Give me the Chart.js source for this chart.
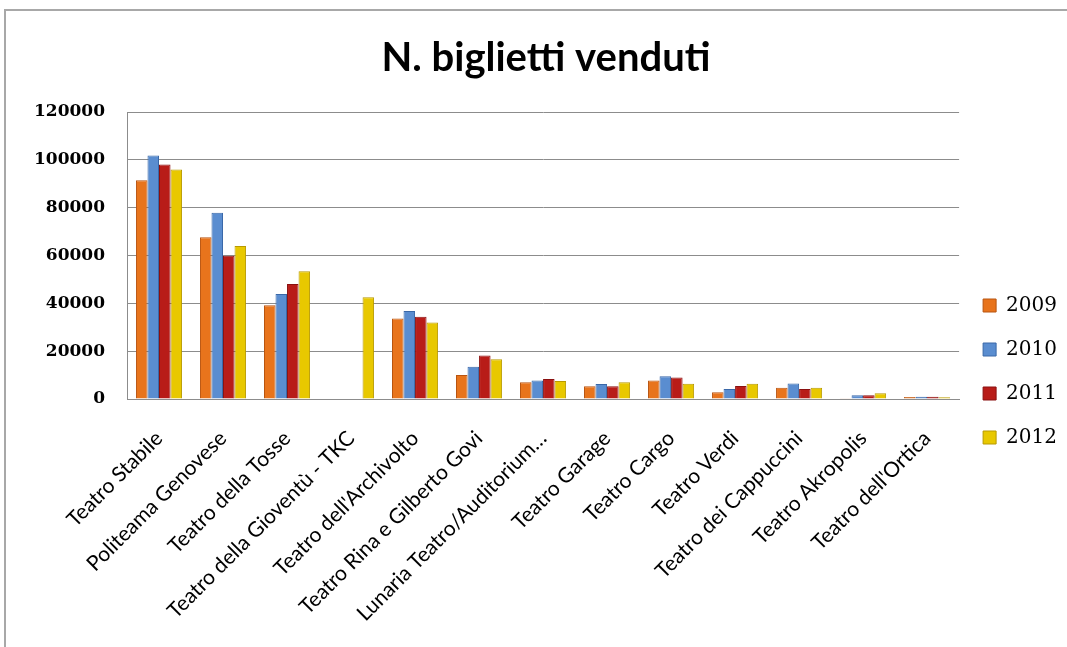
<!DOCTYPE html>
<html>
<head>
<meta charset="utf-8">
<script src="https://cdn.jsdelivr.net/npm/chart.js@4"></script>
<style>
  body { margin: 0; background: #fff; }
  .frame { position: absolute; left: 4px; top: 9px; width: 1100px; height: 700px;
           border-left: 2px solid #a8a8a8; border-top: 2px solid #a8a8a8; }
  #chart { position: absolute; left: 5px; top: 10px; }
</style>
</head>
<body>
<div class="frame"></div>
<canvas id="chart" width="1062" height="637"></canvas>
<script>
const teatri = ['Teatro Stabile', 'Politeama Genovese', 'Teatro della Tosse', 'Teatro della Gioventù - TKC',
  "Teatro dell'Archivolto", 'Teatro Rina e Gilberto Govi', 'Lunaria Teatro/Auditorium…', 'Teatro Garage',
  'Teatro Cargo', 'Teatro Verdi', 'Teatro dei Cappuccini', 'Teatro Akropolis', "Teatro dell'Ortica"];

const anni = ['2009', '2010', '2011', '2012'];
const v2009 = [91500, 67600, 39200, null, 33700, 10000, 7000, 5300, 7700, 2800, 4700, 300, 800];
const v2010 = [101800, 77900, 43900, null, 36800, 13500, 7700, 6300, 9500, 4200, 6500, 1600, 900];
const v2011 = [98000, 59900, 48100, null, 34400, 18200, 8400, 5300, 9000, 5400, 4200, 1600, 900];
const v2012 = [96000, 64000, 53400, 42500, 32000, 16600, 7500, 7000, 6400, 6400, 4700, 2400, 700];

const yMax = 120000, yStep = 20000;

const colori = ['#E8741C', '#5A8DD0', '#B81C18', '#E8C800'];
const bordi = ['#B85410', '#3A68A8', '#8A1010', '#B89A00'];

const serie = [v2009, v2010, v2011, v2012];

new Chart(document.getElementById('chart'), {
  type: 'bar',
  data: {
    labels: teatri,
    datasets: serie.map((d, i) => ({
      label: anni[i],
      data: d,
      backgroundColor: colori[i],
      borderColor: bordi[i],
      borderWidth: 1,
      categoryPercentage: 0.72,
      barPercentage: 1.0
    }))
  },
  options: {
    responsive: false,
    animation: false,
    layout: { padding: { left: 20, right: 0, top: 0, bottom: 0 } },
    plugins: {
      title: {
        display: true,
        text: 'N. biglietti venduti',
        color: '#000',
        font: { family: 'Lato', size: 40, weight: 'bold' },
        padding: { top: 24, bottom: 30 }
      },
      legend: {
        position: 'right',
        align: 'center',
        title: { display: true, text: '', font: { size: 10 }, padding: { top: 0, bottom: 74 } },
        labels: {
          color: '#000',
          font: { family: 'DejaVu Serif', size: 20 },
          boxWidth: 13,
          boxHeight: 13,
          padding: 24
        }
      },
      tooltip: { enabled: false }
    },
    scales: {
      x: {
        grid: { display: false },
        border: { display: true, color: '#8c8c8c', width: 1 },
        ticks: {
          color: '#000',
          font: { family: 'Lato', size: 21 },
          minRotation: 45,
          maxRotation: 45,
          padding: 19
        },
        afterFit: s => { s.height = 248; }
      },
      y: {
        min: 0,
        max: yMax,
        grid: { color: '#8c8c8c', drawTicks: false },
        border: { display: true, color: '#8c8c8c', width: 1 },
        ticks: {
          stepSize: yStep,
          color: '#000',
          font: { family: 'DejaVu Serif', size: 17, weight: 'bold' },
          padding: 22,
          callback: v => String(v)
        },
        afterFit: s => { s.width = 102; }
      }
    }
  }
});
</script>
</body>
</html>
